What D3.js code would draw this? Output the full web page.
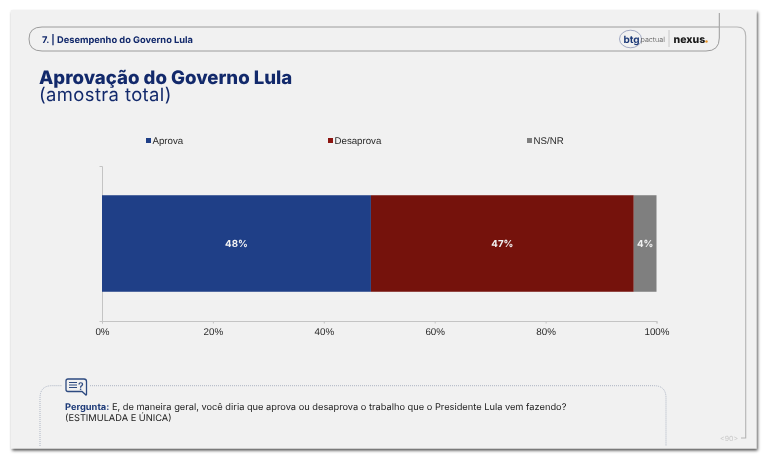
<!DOCTYPE html>
<html><head><meta charset="utf-8">
<script src="https://cdn.jsdelivr.net/npm/d3@7"></script>
<style>html,body{margin:0;padding:0;background:#fff}svg{display:block;filter:blur(.4px);text-rendering:geometricPrecision}</style>
</head><body><svg id="c" width="768" height="462"></svg>
<script>
const categories = ["Aprova","Desaprova","NS/NR"];
const values = [48.5,47.4,4.1];
const valueLabels = ["48%","47%","4%"];
const colors = ["#1f3f87","#75120c","#7f7f7f"];
const legendColors = ["#1f3f87","#8c1510","#7f7f7f"];
const ticks = [0,20,40,60,80,100];
const sectionTitle = "7. | Desempenho do Governo Lula";
const title = "Aprovação do Governo Lula";
const subtitle = "(amostra total)";
const questionLabel = "Pergunta:";
const question = " E, de maneira geral, você diria que aprova ou desaprova o trabalho que o Presidente Lula vem fazendo?";
const questionNote = "(ESTIMULADA E ÚNICA)";
const pageNo = "<90>";

const svg = d3.select("#c");
const font = "Inter, 'Liberation Sans', sans-serif";
const sans = "'Liberation Sans', Arial, sans-serif";
const navy = "#12296b";
const defs = svg.append("defs");
const f = defs.append("filter").attr("id","sh").attr("x","-5%").attr("y","-5%").attr("width","110%").attr("height","110%");
f.append("feDropShadow").attr("dx",1.2).attr("dy",2).attr("stdDeviation",1.5).attr("flood-color","#000").attr("flood-opacity",.7);

svg.append("rect").attr("x",11).attr("y",10).attr("width",745.5).attr("height",438.5).attr("fill","#f1f1f1").attr("filter","url(#sh)");

// header frame
svg.append("path").attr("d","M720,27 H737 Q745.7,27 745.7,36 V438 H741").attr("fill","none").attr("stroke","#b5b5b5").attr("stroke-width",1.1);
svg.append("path").attr("d","M719.3,13 V38 Q719.3,51 706,51 H42 Q29,51 29,39 Q29,27 42,27 H719").attr("fill","none").attr("stroke","#9c9c9c").attr("stroke-width",1);
svg.append("text").attr("x",42).attr("y",43).text(sectionTitle).attr("font-family",font).attr("font-size",9.3).attr("font-weight",700).attr("fill",navy);
svg.append("text").attr("x",39).attr("y",84).text(title).attr("font-family",font).attr("font-size",18.6).attr("font-weight",800).attr("fill",navy);
svg.append("text").attr("x",39).attr("y",101).text(subtitle).attr("font-family",font).attr("font-size",18.4).attr("letter-spacing",.4).attr("font-weight",400).attr("fill",navy);

// logos
svg.append("ellipse").attr("cx",630.5).attr("cy",39).attr("rx",11).attr("ry",8.8).attr("fill","none").attr("stroke","#7d88ad").attr("stroke-width",.7);
svg.append("text").attr("x",623.5).attr("y",42.5).text("btg").attr("font-family",font).attr("font-size",10).attr("font-weight",700).attr("fill","#1d3a78");
svg.append("text").attr("x",640.5).attr("y",42).text("pactual").attr("font-family",font).attr("font-size",7.2).attr("font-weight",300).attr("fill","#555");
svg.append("line").attr("x1",669).attr("x2",669).attr("y1",30).attr("y2",47).attr("stroke","#c4c4c4").attr("stroke-width",.9);
svg.append("text").attr("x",673.5).attr("y",42.5).text("nexus").attr("font-family",font).attr("font-size",10.5).attr("font-weight",800).attr("fill","#1a1a1a");
svg.append("circle").attr("cx",706.5).attr("cy",41.5).attr("r",1.2).attr("fill","#e8962a");

// chart
const x = d3.scaleLinear().domain([0,100]).range([102,656.5]);
const y = d3.scaleBand().domain(["total"]).range([166,321]).paddingInner(0).paddingOuter(0.303);
const ax = svg.append("g").attr("transform","translate(0,321)")
  .call(d3.axisBottom(x).tickValues(ticks).tickFormat(d=>d+"%").tickSize(2.5).tickPadding(4.5));
ax.select(".domain").attr("stroke","#c4c4c4").attr("stroke-width",1);
ax.selectAll(".tick line").attr("stroke","#c4c4c4");
ax.selectAll("text").attr("font-family",sans).attr("font-size",9.8).attr("fill","#2a2a2a");
const ay = svg.append("g").attr("transform","translate(102,0)")
  .call(d3.axisLeft(y).tickValues([]).tickSizeOuter(2.5));
ay.select(".domain").attr("stroke","#c4c4c4").attr("stroke-width",1);

let cum = 0;
const stacked = values.map((v,i)=>{const s={v,i,x0:cum,x1:cum+v};cum+=v;return s;});
svg.selectAll("rect.bar").data(stacked).join("rect").attr("class","bar")
  .attr("x",d=>x(d.x0)).attr("width",d=>x(d.x1)-x(d.x0))
  .attr("y",y("total")).attr("height",y.bandwidth()).attr("fill",d=>colors[d.i]);
svg.selectAll("text.val").data(stacked).join("text").attr("class","val")
  .attr("x",d=>x((d.x0+d.x1)/2)).attr("y",y("total")+y.bandwidth()/2+3.8)
  .attr("text-anchor","middle").text(d=>valueLabels[d.i])
  .attr("font-family",font).attr("font-size",9.7).attr("font-weight",700).attr("fill","#f2f2f2");

// legend
const lx = [146,328,527];
const lg = svg.selectAll("g.lg").data(categories).join("g").attr("class","lg").attr("transform",(d,i)=>`translate(${lx[i]},140.5)`);
lg.append("rect").attr("x",0).attr("y",-2.5).attr("width",5).attr("height",5).attr("fill",(d,i)=>legendColors[i]);
lg.append("text").attr("x",6.5).attr("y",3.5).text(d=>d).attr("font-family",sans).attr("font-size",9.7).attr("fill","#2a2a2a");

// question box
svg.append("path").attr("d","M40,446 V398 Q40,385.7 52,385.7 H62").attr("fill","none").attr("stroke","#8f9bb0").attr("stroke-width",.7).attr("stroke-dasharray","1 1");
svg.append("path").attr("d","M90,385.7 H654 Q666,385.7 666,398 V446").attr("fill","none").attr("stroke","#8f9bb0").attr("stroke-width",.7).attr("stroke-dasharray","1 1");
svg.append("path").attr("d","M68,379 H84 Q86.5,379 86.5,381.5 V394.5 L86,395 L82,391.5 H68 Q66,391.5 66,389.5 V381 Q66,379 68,379 Z").attr("fill","none").attr("stroke","#2d4a80").attr("stroke-width",1.3);
svg.selectAll("line.qi").data([382.5,385,387.5]).join("line").attr("class","qi").attr("x1",69).attr("x2",77).attr("y1",d=>d).attr("y2",d=>d).attr("stroke","#2d4a80").attr("stroke-width",1);
svg.append("text").attr("x",78).attr("y",390).text("?").attr("font-family",font).attr("font-size",10.5).attr("font-weight",600).attr("fill","#2d4a80");

const qt = svg.append("text").attr("x",65).attr("y",410).attr("font-family",font).attr("font-size",9.28).attr("fill","#222");
qt.append("tspan").text(questionLabel).attr("font-weight",700).attr("fill","#1d3a78");
qt.append("tspan").text(question).attr("font-weight",400);
svg.append("text").attr("x",65).attr("y",420.5).text(questionNote).attr("font-family",font).attr("font-size",9.28).attr("fill","#222");
svg.append("text").attr("x",720).attr("y",440.5).text(pageNo).attr("font-family",font).attr("font-size",7).attr("fill","#c9c9c9");
</script></body></html>
